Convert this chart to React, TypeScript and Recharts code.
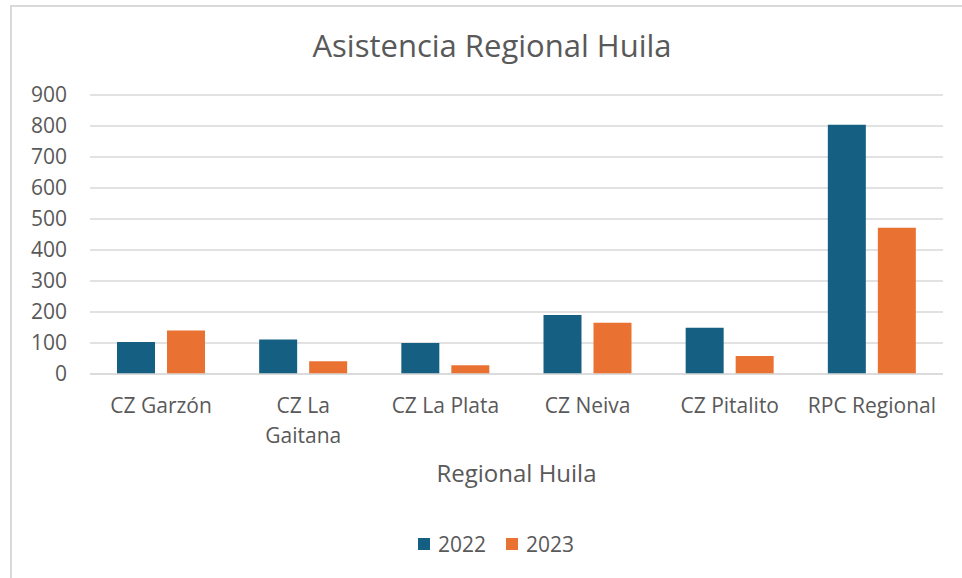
import { BarChart, Bar, XAxis, YAxis, CartesianGrid, Legend, Label } from "recharts";

const categories = ["CZ Garzón", "CZ La Gaitana", "CZ La Plata", "CZ Neiva", "CZ Pitalito", "RPC Regional"];
const tickLines = [["CZ Garzón"], ["CZ La", "Gaitana"], ["CZ La Plata"], ["CZ Neiva"], ["CZ Pitalito"], ["RPC Regional"]];
const values2022 = [103, 111, 100, 190, 149, 804];
const values2023 = [140, 41, 28, 165, 58, 472];
const yTicks = [0, 100, 200, 300, 400, 500, 600, 700, 800, 900];

const data = categories.map((name, i) => ({
  name,
  y2022: values2022[i],
  y2023: values2023[i],
}));

const FONT = "'Open Sans', sans-serif";
const TEXT = "#595959";
const BLUE = "#156082";
const ORANGE = "#E97132";

function CategoryTick(props: any) {
  const { x, y, payload } = props;
  const idx = categories.indexOf(payload.value);
  const lines = idx >= 0 ? tickLines[idx] : [payload.value];
  return (
    <text x={x} y={y} textAnchor="middle" fill={TEXT} fontSize={21} fontFamily={FONT}>
      {lines.map((l: string, i: number) => (
        <tspan key={i} x={x} dy={i === 0 ? 31 : 30}>
          {l}
        </tspan>
      ))}
    </text>
  );
}

function LegendBox() {
  const items = [
    { label: "2022", color: BLUE },
    { label: "2023", color: ORANGE },
  ];
  return (
    <div style={{ display: "flex", justifyContent: "center", paddingLeft: 30, fontFamily: FONT, fontSize: 21, color: TEXT }}>
      {items.map((it) => (
        <div key={it.label} style={{ display: "flex", alignItems: "center", marginRight: it.label === "2022" ? 20 : 0 }}>
          <span style={{ width: 12, height: 12, background: it.color, marginRight: 8, display: "inline-block" }} />
          <span>{it.label}</span>
        </div>
      ))}
    </div>
  );
}

export default function App() {
  return (
    <div style={{ position: "fixed", left: 0, top: 0, width: 962, height: 578, overflow: "hidden", background: "#fff" }}>
      <div
        style={{
          position: "absolute",
          left: 10,
          top: 5,
          width: 1000,
          height: 1000,
          borderLeft: "2px solid #d9d9d9",
          borderTop: "2px solid #d9d9d9",
        }}
      />
      <div
        style={{
          position: "absolute",
          left: 492,
          top: 25,
          transform: "translateX(-50%)",
          whiteSpace: "nowrap",
          fontFamily: FONT,
          fontSize: 31,
          fontWeight: 400,
          color: TEXT,
          lineHeight: "40px",
        }}
      >
        Asistencia Regional Huila
      </div>
      <div style={{ position: "absolute", left: 0, top: 0 }}>
        <BarChart
          width={962}
          height={578}
          data={data}
          margin={{ top: 95, right: 19, bottom: 96, left: 0 }}
          barSize={38}
          barGap={12}
        >
          <CartesianGrid vertical={false} stroke="#d9d9d9" strokeWidth={1.5} />
          <XAxis
            dataKey="name"
            height={108}
            axisLine={{ stroke: "#d9d9d9", strokeWidth: 1.5 }}
            tickLine={false}
            tick={<CategoryTick />}
            interval={0}
          >
            <Label
              value="Regional Huila"
              position="insideBottom"
              offset={0}
              fill={TEXT}
              fontSize={24}
              fontFamily={FONT}
            />
          </XAxis>
          <YAxis
            width={90}
            domain={[0, 900]}
            ticks={yTicks}
            interval={0}
            axisLine={false}
            tickLine={false}
            tickMargin={17}
            tick={{ fill: TEXT, fontSize: 21, fontFamily: FONT }}
          />
          <Legend
            verticalAlign="middle"
            align="center"
            wrapperStyle={{ top: 530, left: 0, width: 962 }}
            content={<LegendBox />}
          />
          <Bar dataKey="y2022" name="2022" fill={BLUE} isAnimationActive={false} />
          <Bar dataKey="y2023" name="2023" fill={ORANGE} isAnimationActive={false} />
        </BarChart>
      </div>
    </div>
  );
}
